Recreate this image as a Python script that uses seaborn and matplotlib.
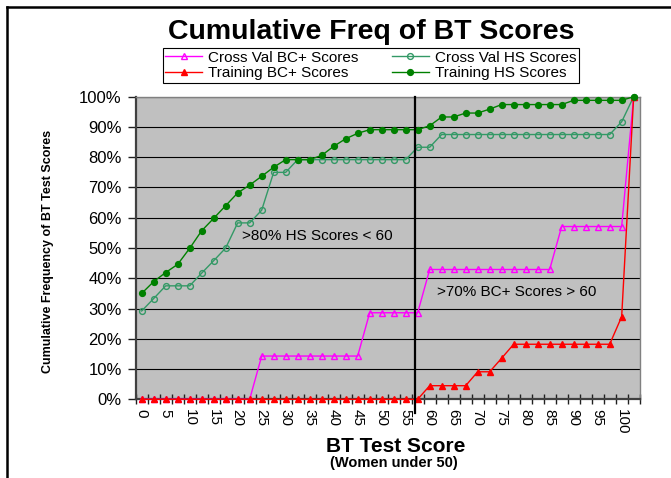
import matplotlib
matplotlib.use("Agg")
import matplotlib.pyplot as plt
import matplotlib.ticker as mticker
from matplotlib.lines import Line2D
import seaborn as sns
import numpy as np

# ── Data ──────────────────────────────────────────────────────────────────
scores = [0, 2.5, 5, 7.5, 10, 12.5, 15, 17.5, 20, 22.5, 25, 27.5, 30, 32.5,
          35, 37.5, 40, 42.5, 45, 47.5, 50, 52.5, 55, 57.5, 60, 62.5, 65,
          67.5, 70, 72.5, 75, 77.5, 80, 82.5, 85, 87.5, 90, 92.5, 95, 97.5,
          100, 102.5]
tick_labels = ["0", "5", "10", "15", "20", "25", "30", "35", "40", "45", "50",
               "55", "60", "65", "70", "75", "80", "85", "90", "95", "100"]

cv_bc = [0, 0, 0, 0, 0, 0, 0, 0, 0, 0,
         14.3, 14.3, 14.3, 14.3, 14.3, 14.3, 14.3, 14.3, 14.3,
         28.6, 28.6, 28.6, 28.6, 28.6,
         42.9, 42.9, 42.9, 42.9, 42.9, 42.9, 42.9, 42.9, 42.9, 42.9, 42.9,
         57.1, 57.1, 57.1, 57.1, 57.1, 57.1, 100]
tr_bc = [0, 0, 0, 0, 0, 0, 0, 0, 0, 0, 0, 0, 0, 0, 0, 0, 0, 0, 0, 0, 0, 0, 0, 0,
         4.5, 4.5, 4.5, 4.5, 9.1, 9.1, 13.6,
         18.2, 18.2, 18.2, 18.2, 18.2, 18.2, 18.2, 18.2, 18.2, 27.3, 100]
cv_hs = [29.2, 33.3, 37.5, 37.5, 37.5, 41.7, 45.8, 50.0, 58.3, 58.3, 62.5,
         75.0, 75.0, 79.2, 79.2, 79.2, 79.2, 79.2, 79.2, 79.2, 79.2, 79.2,
         79.2, 83.3, 83.3, 87.5, 87.5, 87.5, 87.5, 87.5, 87.5, 87.5, 87.5,
         87.5, 87.5, 87.5, 87.5, 87.5, 87.5, 87.5, 91.7, 100]
tr_hs = [35.0, 38.9, 41.9, 44.6, 49.9, 55.7, 59.8, 64.0, 68.2, 70.8, 73.7,
         76.7, 79.2, 79.2, 79.2, 80.6, 83.6, 86.1, 87.9, 89.1, 89.1, 89.1,
         89.1, 89.1, 90.4, 93.3, 93.3, 94.6, 94.6, 95.9, 97.4, 97.4, 97.4,
         97.4, 97.4, 97.4, 98.8, 98.8, 98.8, 98.8, 98.8, 100]

FONT = ["Liberation Sans", "DejaVu Sans"]
plt.rcParams["font.family"] = FONT

# ── Figure ─────────────────────────────────────────────────────────────────
fig = plt.figure(figsize=(6.71, 4.78), dpi=100, facecolor="white")
ax = fig.add_axes([0.2022, 0.1646, 0.7511, 0.6331])
ax.set_facecolor("#C0C0C0")

pos = np.arange(len(scores))

series = [
    ("Cross Val BC+ Scores", cv_bc, "#FF00FF", "^", "none"),
    ("Cross Val HS Scores", cv_hs, "#339966", "o", "none"),
    ("Training BC+ Scores", tr_bc, "#FF0000", "^", "#FF0000"),
    ("Training HS Scores", tr_hs, "#008000", "o", "#008000"),
]
for label, vals, col, mk, fc in series:
    sns.lineplot(x=pos, y=vals, ax=ax, color=col, lw=1, marker=mk,
                 markersize=4.2, markerfacecolor=fc, markeredgecolor=col,
                 markeredgewidth=1, label=label, zorder=3, clip_on=False)

# divider line near 57.5
ax.plot([22.8, 22.8], [-4.6, 100], color="black", lw=1.6, clip_on=False,
        zorder=4)

ax.set_xlim(-0.5, len(scores) - 0.5)
ax.set_ylim(0, 100)

ax.set_xticks(pos[::2])
ax.set_xticklabels(tick_labels, rotation=-90, fontsize=11)
ax.tick_params(axis="x", which="major", length=0, pad=7)
ax.set_xticks(np.arange(-0.5, len(scores), 1), minor=True)
ax.tick_params(axis="x", which="minor", direction="inout", length=7,
               width=1, color="#202020")

ax.set_yticks(np.arange(0, 101, 10))
ax.yaxis.set_major_formatter(mticker.FuncFormatter(lambda v, _: f"{int(v)}%"))
ax.tick_params(axis="y", direction="out", length=6, width=1,
               color="#202020", labelsize=12, pad=4)

ax.grid(axis="y", color="black", lw=0.8)
ax.grid(axis="x", visible=False)
ax.set_axisbelow(True)
ax.set_xlabel("")
ax.set_ylabel("")

for side in ["left", "bottom"]:
    ax.spines[side].set_color("#404040")
    ax.spines[side].set_linewidth(1.6)
for side in ["top", "right"]:
    ax.spines[side].set_color("#808080")
    ax.spines[side].set_linewidth(1)

ax.text(8.4, 54, ">80% HS Scores < 60", fontsize=11, va="center")
ax.text(24.6, 35.5, ">70% BC+ Scores > 60", fontsize=11, va="center")

# legend above the plot
handles, labels = ax.get_legend_handles_labels()
ax.get_legend().remove()
order = [0, 2, 1, 3]
leg = fig.legend([handles[i] for i in order], [labels[i] for i in order],
                 loc="center", bbox_to_anchor=(0.5527, 0.863), ncol=2,
                 fontsize=11, frameon=True, fancybox=False, framealpha=1,
                 edgecolor="black", handlelength=2.4, columnspacing=2.2,
                 handletextpad=0.4, labelspacing=0.12, borderpad=0.15,
                 borderaxespad=0)
leg.get_frame().set_linewidth(0.8)

# titles and labels
fig.text(0.553, 0.918, "Cumulative Freq of BT Scores", fontsize=20.5,
         fontweight="bold", ha="center", va="baseline")
fig.text(0.589, 0.0544, "BT Test Score", fontsize=15, fontweight="bold",
         ha="center", va="baseline")
fig.text(0.587, 0.023, "(Women under 50)", fontsize=10.5, fontweight="bold",
         ha="center", va="baseline")
fig.text(0.0715, 0.473, "Cumulative Frequency of BT Test Scores", fontsize=9,
         fontweight="bold", rotation=90, ha="center", va="center")

# outer frame (top and left edges visible)
fig.add_artist(Line2D([0.01, 1.0], [0.985, 0.985], color="black", lw=1.8,
                      transform=fig.transFigure))
fig.add_artist(Line2D([0.01, 0.01], [0.0, 0.985], color="black", lw=1.8,
                      transform=fig.transFigure))

fig.savefig("out.png", dpi=100)
